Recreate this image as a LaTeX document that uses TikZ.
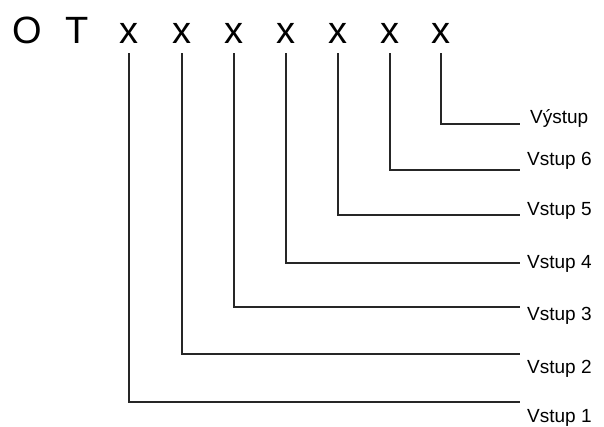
\documentclass[tikz,border=0pt]{standalone}
\usepackage{fontspec}
\setmainfont{Liberation Sans}
\begin{document}
\begin{tikzpicture}[x=1pt,y=-1pt,
  big/.style={font=\fontsize{38}{38}\selectfont, inner sep=0pt, anchor=base},
  lbl/.style={font=\fontsize{19}{19}\selectfont, inner sep=0pt, anchor=base west},
  wire/.style={line width=1.3pt, draw=black!85}]
\useasboundingbox (0,0) rectangle (604,426);
\node[big] (o) at (27,43) {O};
\node[big] (t) at (77,43) {T};
\foreach \i/\xx in {1/129,2/182,3/234,4/286,5/338,6/390,7/441}{
  \node[big] (x\i) at (\xx,43) {x};
}
\foreach \i/\ly in {1/402,2/354,3/307,4/263,5/215,6/170,7/124}{
  \coordinate (e\i) at (520,\ly);
}
\node[lbl] (l1) at (527,422) {Vstup 1};
\node[lbl] (l2) at (527,373) {Vstup 2};
\node[lbl] (l3) at (527,320) {Vstup 3};
\node[lbl] (l4) at (527,268) {Vstup 4};
\node[lbl] (l5) at (527,215) {Vstup 5};
\node[lbl] (l6) at (527,165) {Vstup 6};
\node[lbl] (l7) at (530,123) {Výstup};
\foreach \i in {1,...,7}{
  \draw[wire] ([yshift=-10pt]x\i.base) |- (e\i);
}
\end{tikzpicture}
\end{document}
